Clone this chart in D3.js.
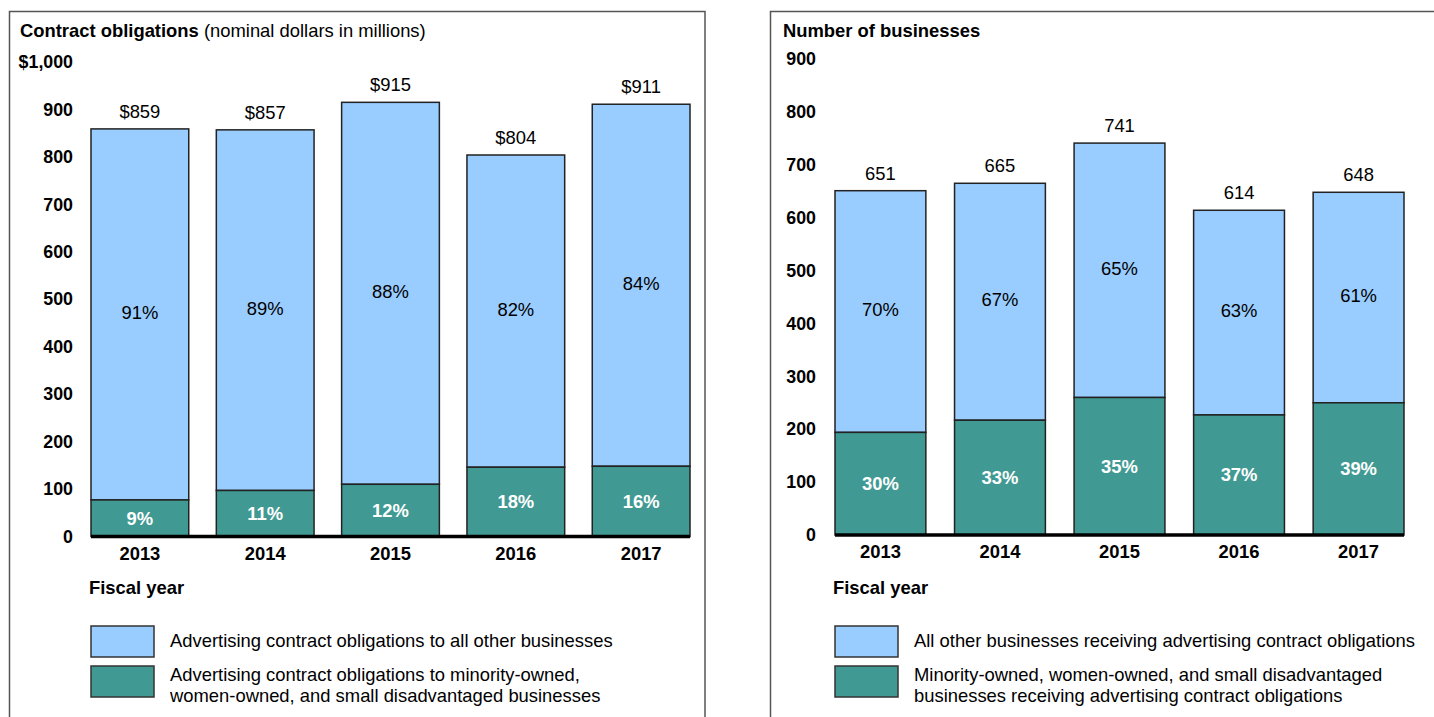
<!DOCTYPE html>
<html>
<head>
<meta charset="utf-8">
<script src="https://cdn.jsdelivr.net/npm/d3@7"></script>
<style>
  html, body { margin: 0; padding: 0; background: #fff; }
  svg { display: block; font-family: "Liberation Sans", Arial, sans-serif; }
</style>
</head>
<body>
<svg id="chart" width="1434" height="717"></svg>
<script>
// ---- Data ----
const years = ["2013", "2014", "2015", "2016", "2017"];

// Left panel: contract obligations (nominal dollars in millions)
const oblTotal = [859, 857, 915, 804, 911];
const oblMinority = [77, 97, 110, 146, 148];
const oblOtherPct = ["91%", "89%", "88%", "82%", "84%"];
const oblMinorityPct = ["9%", "11%", "12%", "18%", "16%"];
const oblTicks = [0, 100, 200, 300, 400, 500, 600, 700, 800, 900, 1000];
const oblTickLabels = ["0", "100", "200", "300", "400", "500", "600", "700", "800", "900", "$1,000"];
const oblTotalLabels = ["$859", "$857", "$915", "$804", "$911"];

// Right panel: number of businesses
const bizTotal = [651, 665, 741, 614, 648];
const bizMinority = [194, 217, 260, 227, 250];
const bizOtherPct = ["70%", "67%", "65%", "63%", "61%"];
const bizMinorityPct = ["30%", "33%", "35%", "37%", "39%"];
const bizTicks = [0, 100, 200, 300, 400, 500, 600, 700, 800, 900];
const bizTickLabels = ["0", "100", "200", "300", "400", "500", "600", "700", "800", "900"];
const bizTotalLabels = ["651", "665", "741", "614", "648"];

const legendLeft = [
  ["Advertising contract obligations to all other businesses"],
  ["Advertising contract obligations to minority-owned,", "women-owned, and small disadvantaged businesses"]
];
const legendRight = [
  ["All other businesses receiving advertising contract obligations"],
  ["Minority-owned, women-owned, and small disadvantaged", "businesses receiving advertising contract obligations"]
];

const COLOR_OTHER = "#99ccff";
const COLOR_MIN = "#409a93";
const FS = 18.4;

const svg = d3.select("#chart");

function panel(cfg) {
  const g = svg.append("g");
  // frame
  g.append("rect")
    .attr("x", cfg.frameX).attr("y", 11.5)
    .attr("width", cfg.frameW).attr("height", 760)
    .attr("fill", "none").attr("stroke", "#555").attr("stroke-width", 1.5);

  // title
  const t = g.append("text").attr("x", cfg.titleX).attr("y", 37)
    .attr("font-size", FS).attr("fill", "#000");
  t.append("tspan").attr("font-weight", "bold").text(cfg.titleBold);
  if (cfg.titleRest) t.append("tspan").text(cfg.titleRest);

  const x = d3.scaleBand().domain(years).range(cfg.xRange).paddingInner(cfg.pad).paddingOuter(0);
  const y = d3.scaleLinear().domain(cfg.yDomain).range(cfg.yRange);

  // y tick labels (axis without line)
  const yAxis = d3.axisLeft(y).tickValues(cfg.ticks).tickSize(0)
    .tickFormat((d, i) => cfg.tickLabels[i]);
  const ya = g.append("g").attr("transform", `translate(${cfg.tickX},0)`).call(yAxis);
  ya.select(".domain").remove();
  ya.selectAll("text").attr("font-size", 17.8).attr("font-weight", "bold")
    .attr("fill", "#000").attr("font-family", "Liberation Sans, Arial, sans-serif");

  // bars
  const rows = years.map((yr, i) => ({ yr, total: cfg.total[i], min: cfg.min[i], i }));
  const bars = g.append("g");
  bars.selectAll("rect.other").data(rows).join("rect")
    .attr("x", d => x(d.yr)).attr("width", x.bandwidth())
    .attr("y", d => y(d.total)).attr("height", d => y(d.min) - y(d.total))
    .attr("fill", COLOR_OTHER).attr("stroke", "#222").attr("stroke-width", 1.5);
  bars.selectAll("rect.min").data(rows).join("rect")
    .attr("x", d => x(d.yr)).attr("width", x.bandwidth())
    .attr("y", d => y(d.min)).attr("height", d => y(0) - y(d.min))
    .attr("fill", COLOR_MIN).attr("stroke", "#222").attr("stroke-width", 1.5);

  // labels
  const cx = d => x(d.yr) + x.bandwidth() / 2;
  g.selectAll("text.tot").data(rows).join("text")
    .attr("x", cx).attr("y", d => y(d.total) - 11)
    .attr("text-anchor", "middle").attr("font-size", FS).attr("fill", "#000")
    .text(d => cfg.totalLabels[d.i]);
  g.selectAll("text.op").data(rows).join("text")
    .attr("x", cx).attr("y", d => (y(d.total) + y(d.min)) / 2 - 2).attr("dy", "0.35em")
    .attr("text-anchor", "middle").attr("font-size", FS).attr("fill", "#000")
    .text(d => cfg.otherPct[d.i]);
  g.selectAll("text.mp").data(rows).join("text")
    .attr("x", cx).attr("y", d => (y(0) + y(d.min)) / 2).attr("dy", "0.35em")
    .attr("text-anchor", "middle").attr("font-size", FS).attr("font-weight", "bold").attr("fill", "#fff")
    .text(d => cfg.minPct[d.i]);

  // x axis
  const xAxis = d3.axisBottom(x).tickSize(0).tickPadding(10);
  const xa = g.append("g").attr("transform", `translate(0,${y(0)})`).call(xAxis);
  xa.select(".domain").attr("stroke", "#000").attr("stroke-width", 3.5)
    .attr("d", `M${cfg.xRange[0]},0H${cfg.xRange[1]}`);
  xa.selectAll("text").attr("font-size", FS).attr("font-weight", "bold").attr("fill", "#000")
    .attr("font-family", "Liberation Sans, Arial, sans-serif");

  g.append("text").attr("x", cfg.xRange[0] - 2).attr("y", 594)
    .attr("font-size", FS).attr("font-weight", "bold").text("Fiscal year");

  // legend
  const colors = [COLOR_OTHER, COLOR_MIN];
  const lg = g.append("g");
  [626, 666].forEach((ly, k) => {
    lg.append("rect").attr("x", cfg.xRange[0]).attr("y", ly).attr("width", 63).attr("height", 31)
      .attr("fill", colors[k]).attr("stroke", "#333").attr("stroke-width", 1.5);
    const lines = cfg.legend[k];
    const tx = lg.append("text").attr("x", cfg.xRange[0] + 79).attr("font-size", FS).attr("fill", "#000");
    lines.forEach((ln, j) => {
      tx.append("tspan").attr("x", cfg.xRange[0] + 79)
        .attr("y", (k === 0 ? 647 : 681) + j * 21).text(ln);
    });
  });
}

panel({
  frameX: 9.5, frameW: 695.5,
  titleX: 20, titleBold: "Contract obligations", titleRest: " (nominal dollars in millions)",
  xRange: [91, 690], pad: 0.22,
  yDomain: [0, 1000], yRange: [536.5, 62],
  ticks: oblTicks, tickLabels: oblTickLabels, tickX: 76,
  total: oblTotal, min: oblMinority, otherPct: oblOtherPct, minPct: oblMinorityPct,
  totalLabels: oblTotalLabels, legend: legendLeft
});

panel({
  frameX: 770.5, frameW: 700,
  titleX: 783, titleBold: "Number of businesses", titleRest: null,
  xRange: [835, 1404], pad: 0.24,
  yDomain: [0, 900], yRange: [535, 59],
  ticks: bizTicks, tickLabels: bizTickLabels, tickX: 819,
  total: bizTotal, min: bizMinority, otherPct: bizOtherPct, minPct: bizMinorityPct,
  totalLabels: bizTotalLabels, legend: legendRight
});
</script>
</body>
</html>
